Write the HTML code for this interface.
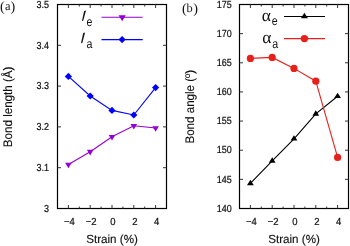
<!DOCTYPE html>
<html><head><meta charset="utf-8"><style>
html,body{margin:0;padding:0;background:#fff;width:350px;height:246px;overflow:hidden}
svg{display:block;will-change:transform}
text{text-rendering:geometricPrecision}
.t{font-family:"Liberation Sans",sans-serif;font-size:10.2px;fill:#111;stroke:#111;stroke-width:0.22px}
.ax{font-family:"Liberation Sans",sans-serif;font-size:12.4px;fill:#111;stroke:#111;stroke-width:0.12px}
.axh{font-family:"Liberation Sans",sans-serif;font-size:11.8px;fill:#111;stroke:#111;stroke-width:0.15px}
.li{font-family:"Liberation Sans",sans-serif;font-style:italic;font-size:15px;fill:#111}
.sub{font-family:"Liberation Sans",sans-serif;font-size:12.5px;fill:#111}
.al{font-family:"Liberation Serif",serif;font-size:17.5px;fill:#111}
.pp{font-family:"Liberation Serif",serif;font-size:14.2px;fill:#111}
.pa{font-family:"Liberation Serif",serif;font-size:12.4px;fill:#111}
</style></head><body>
<svg width="350" height="246" viewBox="0 0 350 246">
<rect x="57.5" y="4.5" width="109.0" height="204.0" fill="none" stroke="#000" stroke-width="1.2"/>
<line x1="68.40" y1="208.5" x2="68.40" y2="205.0" stroke="#333" stroke-width="1"/>
<line x1="68.40" y1="4.5" x2="68.40" y2="8.0" stroke="#333" stroke-width="1"/>
<text transform="translate(69.40,224.8) scale(0.93,1)" text-anchor="middle" class="t">−4</text>
<line x1="79.30" y1="208.5" x2="79.30" y2="206.5" stroke="#333" stroke-width="1"/>
<line x1="79.30" y1="4.5" x2="79.30" y2="6.5" stroke="#333" stroke-width="1"/>
<line x1="90.20" y1="208.5" x2="90.20" y2="205.0" stroke="#333" stroke-width="1"/>
<line x1="90.20" y1="4.5" x2="90.20" y2="8.0" stroke="#333" stroke-width="1"/>
<text transform="translate(91.20,224.8) scale(0.93,1)" text-anchor="middle" class="t">−2</text>
<line x1="101.10" y1="208.5" x2="101.10" y2="206.5" stroke="#333" stroke-width="1"/>
<line x1="101.10" y1="4.5" x2="101.10" y2="6.5" stroke="#333" stroke-width="1"/>
<line x1="112.00" y1="208.5" x2="112.00" y2="205.0" stroke="#333" stroke-width="1"/>
<line x1="112.00" y1="4.5" x2="112.00" y2="8.0" stroke="#333" stroke-width="1"/>
<text transform="translate(113.00,224.8) scale(0.93,1)" text-anchor="middle" class="t">0</text>
<line x1="122.90" y1="208.5" x2="122.90" y2="206.5" stroke="#333" stroke-width="1"/>
<line x1="122.90" y1="4.5" x2="122.90" y2="6.5" stroke="#333" stroke-width="1"/>
<line x1="133.80" y1="208.5" x2="133.80" y2="205.0" stroke="#333" stroke-width="1"/>
<line x1="133.80" y1="4.5" x2="133.80" y2="8.0" stroke="#333" stroke-width="1"/>
<text transform="translate(134.80,224.8) scale(0.93,1)" text-anchor="middle" class="t">2</text>
<line x1="144.70" y1="208.5" x2="144.70" y2="206.5" stroke="#333" stroke-width="1"/>
<line x1="144.70" y1="4.5" x2="144.70" y2="6.5" stroke="#333" stroke-width="1"/>
<line x1="155.60" y1="208.5" x2="155.60" y2="205.0" stroke="#333" stroke-width="1"/>
<line x1="155.60" y1="4.5" x2="155.60" y2="8.0" stroke="#333" stroke-width="1"/>
<text transform="translate(156.60,224.8) scale(0.93,1)" text-anchor="middle" class="t">4</text>
<text transform="translate(49.0,211.70) scale(0.88,1)" text-anchor="end" class="t">3</text>
<line x1="57.5" y1="167.70" x2="61.0" y2="167.70" stroke="#333" stroke-width="1"/>
<line x1="166.5" y1="167.70" x2="163.0" y2="167.70" stroke="#333" stroke-width="1"/>
<text transform="translate(49.0,170.90) scale(0.88,1)" text-anchor="end" class="t">3.1</text>
<line x1="57.5" y1="126.90" x2="61.0" y2="126.90" stroke="#333" stroke-width="1"/>
<line x1="166.5" y1="126.90" x2="163.0" y2="126.90" stroke="#333" stroke-width="1"/>
<text transform="translate(49.0,130.10) scale(0.88,1)" text-anchor="end" class="t">3.2</text>
<line x1="57.5" y1="86.10" x2="61.0" y2="86.10" stroke="#333" stroke-width="1"/>
<line x1="166.5" y1="86.10" x2="163.0" y2="86.10" stroke="#333" stroke-width="1"/>
<text transform="translate(49.0,89.30) scale(0.88,1)" text-anchor="end" class="t">3.3</text>
<line x1="57.5" y1="45.30" x2="61.0" y2="45.30" stroke="#333" stroke-width="1"/>
<line x1="166.5" y1="45.30" x2="163.0" y2="45.30" stroke="#333" stroke-width="1"/>
<text transform="translate(49.0,48.50) scale(0.88,1)" text-anchor="end" class="t">3.4</text>
<text transform="translate(49.0,7.70) scale(0.88,1)" text-anchor="end" class="t">3.5</text>
<polyline points="68.40,164.50 90.20,151.70 112.00,136.80 133.80,125.80 155.60,128.00" fill="none" stroke="#9400d3" stroke-width="1.1"/>
<polyline points="68.40,76.40 90.20,96.00 112.00,110.40 133.80,115.00 155.60,87.60" fill="none" stroke="#0000ff" stroke-width="1.1"/>
<path d="M65.10,162.63L71.70,162.63L68.40,168.23Z" fill="#9400d3"/>
<path d="M86.90,149.83L93.50,149.83L90.20,155.43Z" fill="#9400d3"/>
<path d="M108.70,134.93L115.30,134.93L112.00,140.53Z" fill="#9400d3"/>
<path d="M130.50,123.93L137.10,123.93L133.80,129.53Z" fill="#9400d3"/>
<path d="M152.30,126.13L158.90,126.13L155.60,131.73Z" fill="#9400d3"/>
<path d="M68.40,72.80L72.00,76.40L68.40,80.00L64.80,76.40Z" fill="#0000ff"/>
<path d="M90.20,92.40L93.80,96.00L90.20,99.60L86.60,96.00Z" fill="#0000ff"/>
<path d="M112.00,106.80L115.60,110.40L112.00,114.00L108.40,110.40Z" fill="#0000ff"/>
<path d="M133.80,111.40L137.40,115.00L133.80,118.60L130.20,115.00Z" fill="#0000ff"/>
<path d="M155.60,84.00L159.20,87.60L155.60,91.20L152.00,87.60Z" fill="#0000ff"/>
<line x1="101.5" y1="17.2" x2="142.7" y2="17.2" stroke="#9400d3" stroke-width="1.1"/>
<path d="M118.60,15.33L125.80,15.33L122.20,21.23Z" fill="#9400d3"/>
<line x1="101.5" y1="39.6" x2="142.7" y2="39.6" stroke="#0000ff" stroke-width="1.1"/>
<path d="M122.10,36.00L125.70,39.60L122.10,43.20L118.50,39.60Z" fill="#0000ff"/>
<path d="M84.10,11.00L86.00,10.40L83.30,20.60L82.60,21.10L82.00,20.70Z" fill="#151515"/>
<path d="M83.20,33.10L85.10,32.50L82.40,42.70L81.70,43.20L81.10,42.80Z" fill="#151515"/>
<text transform="translate(86.4,25.9) scale(0.85,1)" class="sub">e</text>
<text transform="translate(86.4,47.9) scale(0.85,1)" class="sub">a</text>
<text transform="translate(112,243.2) scale(0.985,1)" text-anchor="middle" class="axh">Strain (%)</text>
<text transform="translate(12.1,106.9) rotate(-90) scale(0.935,1)" text-anchor="middle" class="ax">Bond length (Å)</text>
<text x="0.1" y="10.6" class="pp">(</text><text x="5.1" y="9.8" class="pa">a</text><text x="10.6" y="10.6" class="pp">)</text>
<rect x="239.5" y="4.5" width="109.0" height="204.0" fill="none" stroke="#000" stroke-width="1.2"/>
<line x1="250.40" y1="208.5" x2="250.40" y2="205.0" stroke="#333" stroke-width="1"/>
<line x1="250.40" y1="4.5" x2="250.40" y2="8.0" stroke="#333" stroke-width="1"/>
<text transform="translate(251.40,224.8) scale(0.93,1)" text-anchor="middle" class="t">−4</text>
<line x1="261.30" y1="208.5" x2="261.30" y2="206.5" stroke="#333" stroke-width="1"/>
<line x1="261.30" y1="4.5" x2="261.30" y2="6.5" stroke="#333" stroke-width="1"/>
<line x1="272.20" y1="208.5" x2="272.20" y2="205.0" stroke="#333" stroke-width="1"/>
<line x1="272.20" y1="4.5" x2="272.20" y2="8.0" stroke="#333" stroke-width="1"/>
<text transform="translate(273.20,224.8) scale(0.93,1)" text-anchor="middle" class="t">−2</text>
<line x1="283.10" y1="208.5" x2="283.10" y2="206.5" stroke="#333" stroke-width="1"/>
<line x1="283.10" y1="4.5" x2="283.10" y2="6.5" stroke="#333" stroke-width="1"/>
<line x1="294.00" y1="208.5" x2="294.00" y2="205.0" stroke="#333" stroke-width="1"/>
<line x1="294.00" y1="4.5" x2="294.00" y2="8.0" stroke="#333" stroke-width="1"/>
<text transform="translate(295.00,224.8) scale(0.93,1)" text-anchor="middle" class="t">0</text>
<line x1="304.90" y1="208.5" x2="304.90" y2="206.5" stroke="#333" stroke-width="1"/>
<line x1="304.90" y1="4.5" x2="304.90" y2="6.5" stroke="#333" stroke-width="1"/>
<line x1="315.80" y1="208.5" x2="315.80" y2="205.0" stroke="#333" stroke-width="1"/>
<line x1="315.80" y1="4.5" x2="315.80" y2="8.0" stroke="#333" stroke-width="1"/>
<text transform="translate(316.80,224.8) scale(0.93,1)" text-anchor="middle" class="t">2</text>
<line x1="326.70" y1="208.5" x2="326.70" y2="206.5" stroke="#333" stroke-width="1"/>
<line x1="326.70" y1="4.5" x2="326.70" y2="6.5" stroke="#333" stroke-width="1"/>
<line x1="337.60" y1="208.5" x2="337.60" y2="205.0" stroke="#333" stroke-width="1"/>
<line x1="337.60" y1="4.5" x2="337.60" y2="8.0" stroke="#333" stroke-width="1"/>
<text transform="translate(338.60,224.8) scale(0.93,1)" text-anchor="middle" class="t">4</text>
<text transform="translate(231.8,211.70) scale(0.88,1)" text-anchor="end" class="t">140</text>
<line x1="239.5" y1="179.36" x2="243.0" y2="179.36" stroke="#333" stroke-width="1"/>
<line x1="348.5" y1="179.36" x2="345.0" y2="179.36" stroke="#333" stroke-width="1"/>
<text transform="translate(231.8,182.56) scale(0.88,1)" text-anchor="end" class="t">145</text>
<line x1="239.5" y1="150.21" x2="243.0" y2="150.21" stroke="#333" stroke-width="1"/>
<line x1="348.5" y1="150.21" x2="345.0" y2="150.21" stroke="#333" stroke-width="1"/>
<text transform="translate(231.8,153.41) scale(0.88,1)" text-anchor="end" class="t">150</text>
<line x1="239.5" y1="121.07" x2="243.0" y2="121.07" stroke="#333" stroke-width="1"/>
<line x1="348.5" y1="121.07" x2="345.0" y2="121.07" stroke="#333" stroke-width="1"/>
<text transform="translate(231.8,124.27) scale(0.88,1)" text-anchor="end" class="t">155</text>
<line x1="239.5" y1="91.93" x2="243.0" y2="91.93" stroke="#333" stroke-width="1"/>
<line x1="348.5" y1="91.93" x2="345.0" y2="91.93" stroke="#333" stroke-width="1"/>
<text transform="translate(231.8,95.13) scale(0.88,1)" text-anchor="end" class="t">160</text>
<line x1="239.5" y1="62.79" x2="243.0" y2="62.79" stroke="#333" stroke-width="1"/>
<line x1="348.5" y1="62.79" x2="345.0" y2="62.79" stroke="#333" stroke-width="1"/>
<text transform="translate(231.8,65.99) scale(0.88,1)" text-anchor="end" class="t">165</text>
<line x1="239.5" y1="33.64" x2="243.0" y2="33.64" stroke="#333" stroke-width="1"/>
<line x1="348.5" y1="33.64" x2="345.0" y2="33.64" stroke="#333" stroke-width="1"/>
<text transform="translate(231.8,36.84) scale(0.88,1)" text-anchor="end" class="t">170</text>
<text transform="translate(231.8,7.70) scale(0.88,1)" text-anchor="end" class="t">175</text>
<polyline points="250.40,183.40 272.20,160.90 294.00,138.80 315.80,113.90 337.60,96.20" fill="none" stroke="#000" stroke-width="1.1"/>
<polyline points="250.40,58.40 272.20,57.40 294.00,68.40 315.80,81.20 337.60,157.40" fill="none" stroke="#e8201c" stroke-width="1.1"/>
<path d="M247.00,185.17L253.80,185.17L250.40,179.87Z" fill="#000"/>
<path d="M268.80,162.67L275.60,162.67L272.20,157.37Z" fill="#000"/>
<path d="M290.60,140.57L297.40,140.57L294.00,135.27Z" fill="#000"/>
<path d="M312.40,115.67L319.20,115.67L315.80,110.37Z" fill="#000"/>
<path d="M334.20,97.97L341.00,97.97L337.60,92.67Z" fill="#000"/>
<circle cx="250.40" cy="58.40" r="3.6" fill="#e8201c"/>
<circle cx="272.20" cy="57.40" r="3.6" fill="#e8201c"/>
<circle cx="294.00" cy="68.40" r="3.6" fill="#e8201c"/>
<circle cx="315.80" cy="81.20" r="3.6" fill="#e8201c"/>
<circle cx="337.60" cy="157.40" r="3.6" fill="#e8201c"/>
<line x1="284" y1="16.5" x2="325" y2="16.5" stroke="#000" stroke-width="1.1"/>
<path d="M300.90,18.27L307.90,18.27L304.40,12.67Z" fill="#000"/>
<line x1="284" y1="38.6" x2="325" y2="38.6" stroke="#e8201c" stroke-width="1.1"/>
<circle cx="304.40" cy="38.60" r="3.7" fill="#e8201c"/>
<text x="261.8" y="20.6" class="al">α</text>
<text transform="translate(271.8,24.7) scale(0.85,1)" class="sub">e</text>
<text x="262.2" y="42.9" class="al">α</text>
<text transform="translate(272.3,47.5) scale(0.85,1)" class="sub">a</text>
<text transform="translate(294,243.2) scale(0.985,1)" text-anchor="middle" class="axh">Strain (%)</text>
<text transform="translate(194.2,106.7) rotate(-90) scale(0.935,1)" text-anchor="middle" class="ax">Bond angle (º)</text>
<text x="182.0" y="13.0" class="pp">(</text><text x="186.6" y="12.1" class="pa">b</text><text x="193.2" y="13.0" class="pp">)</text>
</svg>
</body></html>
